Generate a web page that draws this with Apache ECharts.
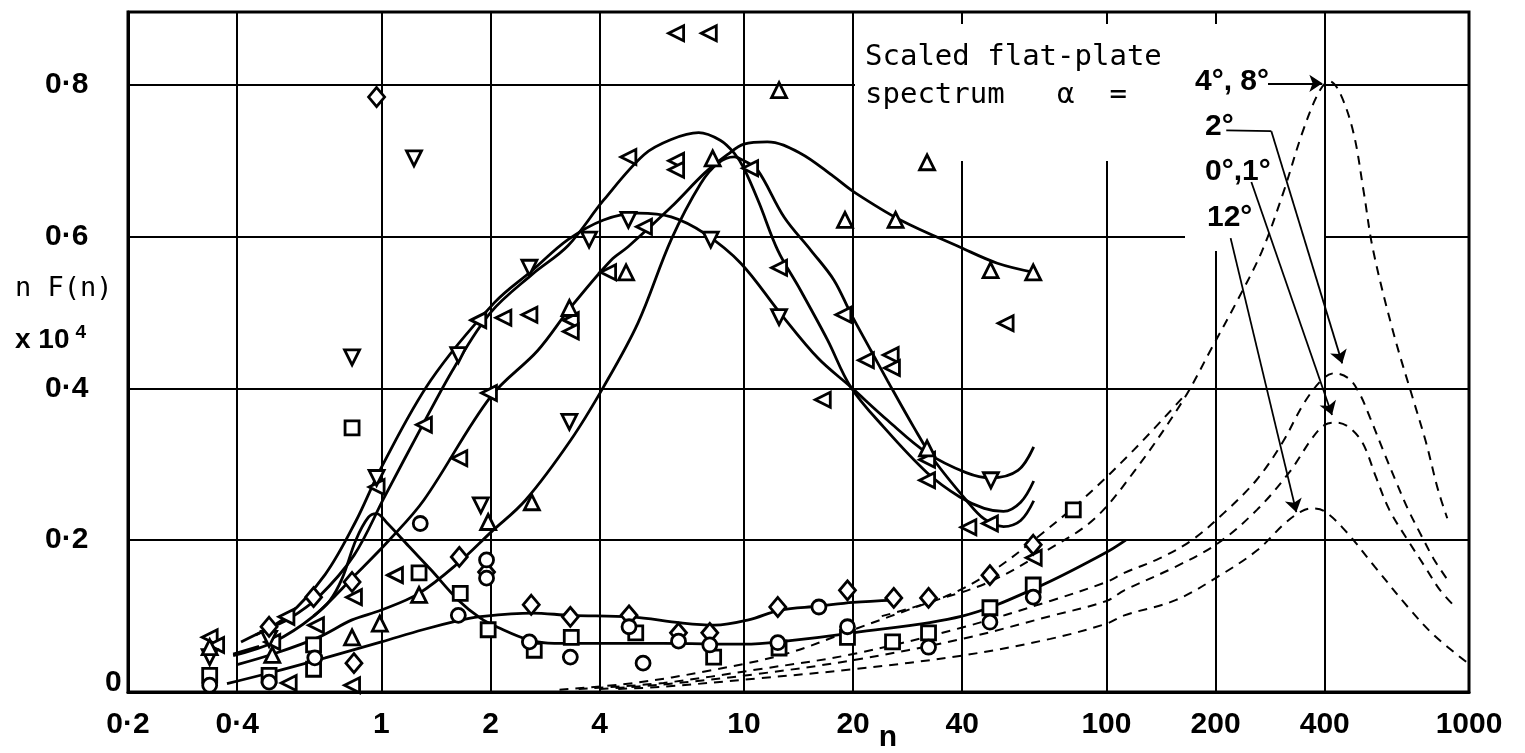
<!DOCTYPE html>
<html>
<head>
<meta charset="utf-8">
<script src="https://cdn.jsdelivr.net/npm/echarts@6/dist/echarts.min.js"></script>
<style>
  html, body { margin: 0; padding: 0; background: #fff; }
  #chart { width: 1525px; height: 753px; }
</style>
</head>
<body>
<div id="chart"></div>
<script>
// axis ticks
const xTicks = [0.2, 0.4, 1, 2, 4, 10, 20, 40, 100, 200, 400, 1000];
const yTicks = [0, 0.2, 0.4, 0.6, 0.8];

// faired curves through the measurements, [n, nF(n) x 10^4]
const curveDown = [[0.45,0.075],[0.55,0.1],[0.7,0.155],[0.85,0.225],[1.0,0.296],[1.37,0.411],[2.05,0.513],[2.6,0.555],[3.27,0.596],[4.1,0.622],[5.1,0.631],[6.3,0.626],[7.8,0.604],[9.8,0.565],[12.6,0.499],[16,0.44],[19.7,0.402],[24.9,0.358],[32,0.315],[41,0.289],[48,0.282],[57,0.292],[63,0.323]];
const curveLeft = [[0.41,0.066],[0.49,0.084],[0.55,0.095],[0.67,0.125],[0.84,0.18],[1.02,0.257],[1.29,0.349],[1.59,0.428],[2.0,0.5],[2.6,0.55],[3.27,0.588],[4.1,0.648],[5.3,0.708],[6.3,0.728],[7.5,0.737],[8.6,0.727],[9.4,0.71],[10,0.69],[11,0.645],[12.4,0.582],[14.3,0.53],[17,0.464],[19.7,0.402],[24.3,0.349],[32,0.289],[39.4,0.257],[46,0.242],[52,0.238],[58,0.25],[63,0.278]];
const curveUp = [[0.39,0.048],[0.5,0.065],[0.65,0.1],[0.85,0.155],[1.05,0.2],[1.31,0.253],[2.0,0.389],[2.7,0.45],[3.33,0.507],[4.3,0.569],[4.8,0.587],[6.3,0.639],[7.8,0.684],[9,0.708],[10,0.722],[11.6,0.725],[14.3,0.71],[17.7,0.679],[20.1,0.659],[27,0.622],[39.5,0.586],[50,0.565],[63,0.553]];
const curveSteep = [[0.4,0.036],[0.51,0.051],[0.67,0.072],[0.83,0.095],[1.0,0.108],[1.27,0.13],[1.63,0.17],[2.0,0.21],[2.5,0.253],[3.33,0.332],[4.1,0.402],[5.1,0.486],[6.3,0.596],[7.6,0.67],[8.5,0.697],[9.4,0.705],[10,0.7],[10.9,0.688],[12.9,0.626],[15.3,0.582],[17.7,0.543],[19.7,0.499],[22.4,0.45],[24.9,0.41],[29.4,0.349],[33.4,0.306],[41,0.253],[46,0.228],[52,0.218],[58,0.226],[63,0.252]];
const curveHump = [[0.65,0.1],[0.72,0.12],[0.78,0.15],[0.85,0.2],[0.92,0.23],[0.97,0.235],[1.04,0.222],[1.19,0.192],[1.37,0.161],[1.63,0.121],[1.88,0.097],[2.1,0.085],[2.54,0.069],[3,0.064],[4,0.064],[6,0.064],[10,0.063],[12.5,0.066],[20,0.078],[40,0.1],[64.5,0.138],[100,0.184],[113,0.2]];
const curveDiamond = [[0.375,0.011],[0.5,0.026],[0.7,0.045],[1.0,0.066],[1.3,0.082],[1.63,0.094],[1.85,0.099],[2.6,0.104],[3.33,0.101],[4.9,0.099],[6.7,0.091],[8.3,0.088],[10.3,0.095],[12.6,0.108],[16,0.113],[20,0.118],[26,0.121]];
const curveStub = [[0.39,0.05],[0.46,0.06]];

// scaled flat-plate spectra (dashed)
const flat4 = [[3.1,0.003],[5,0.012],[8,0.028],[13,0.05],[20,0.082],[32,0.117],[47,0.144],[67,0.184],[92,0.227],[119,0.29],[163,0.385],[196,0.455],[228,0.513],[268,0.58],[307,0.657],[347,0.737],[385,0.79],[412,0.805],[440,0.79],[480,0.737],[512,0.66],[544,0.582],[619,0.473],[702,0.385],[760,0.33],[822,0.266],[871,0.229]];
const flat8 = [[24,0.1],[35.6,0.125],[47.7,0.157],[64.5,0.204],[86.5,0.255],[119,0.319],[163,0.389]];
const flat2 = [[3.5,0.004],[6,0.012],[11,0.03],[20,0.05],[40,0.085],[70,0.12],[100,0.145],[112,0.157],[140,0.176],[172,0.2],[211,0.236],[260,0.28],[307,0.33],[350,0.38],[394,0.412],[425,0.42],[466,0.413],[498,0.394],[533,0.362],[579,0.319],[632,0.275],[680,0.24],[741,0.205],[800,0.175],[872,0.148]];
const flat01 = [[4,0.004],[6,0.01],[11,0.024],[20,0.042],[40,0.07],[70,0.1],[100,0.12],[112,0.134],[155,0.165],[203,0.196],[260,0.24],[320,0.29],[370,0.335],[400,0.352],[431,0.355],[466,0.349],[509,0.328],[554,0.283],[603,0.24],[678,0.2],[756,0.165],[830,0.135],[916,0.112]];
const flat12 = [[4.5,0.004],[6,0.007],[11,0.018],[20,0.03],[40,0.048],[70,0.07],[100,0.09],[112,0.101],[155,0.121],[203,0.152],[261,0.187],[310,0.222],[345,0.238],[370,0.242],[400,0.238],[455,0.213],[550,0.165],[678,0.112],[800,0.075],[993,0.038]];

// measured points by symbol
const triLeft = [[0.336,0.072],[0.35,0.062],[0.5,0.066],[0.547,0.099],[0.555,0.012],[0.66,0.088],[0.84,0.125],[0.83,0.009],[0.97,0.27],[1.09,0.154],[1.31,0.352],[1.64,0.308],[1.85,0.49],[1.98,0.394],[2.17,0.493],[2.56,0.497],[3.33,0.49],[3.33,0.475],[4.22,0.553],[4.8,0.705],[5.3,0.613],[6.5,0.868],[8.0,0.868],[6.5,0.70],[6.5,0.688],[10.4,0.69],[12.5,0.559],[16.5,0.385],[18.8,0.497],[21.7,0.437],[25.4,0.444],[25.6,0.427],[32,0.306],[32,0.279],[41.6,0.217],[47.7,0.222],[52.7,0.486],[63,0.177]];
const triDown = [[0.336,0.046],[0.49,0.07],[0.83,0.441],[0.97,0.282],[1.23,0.703],[1.63,0.444],[1.88,0.246],[2.56,0.559],[3.3,0.356],[3.74,0.596],[4.8,0.622],[8.1,0.596],[12.5,0.494],[48,0.279]];
const triUp = [[0.336,0.059],[0.5,0.049],[0.83,0.072],[0.99,0.09],[1.27,0.128],[1.97,0.224],[2.6,0.25],[3.3,0.506],[4.73,0.553],[8.2,0.703],[12.5,0.793],[19,0.622],[26.2,0.622],[32,0.698],[32,0.321],[47.9,0.556],[62.8,0.553]];
const diamonds = [[0.49,0.086],[0.65,0.125],[0.83,0.145],[0.84,0.038],[0.97,0.784],[1.64,0.178],[1.95,0.158],[2.59,0.115],[3.32,0.099],[4.82,0.101],[6.6,0.078],[8.05,0.078],[12.4,0.112],[19.3,0.134],[25.9,0.124],[32.3,0.124],[47.7,0.154],[62.8,0.194]];
const squares = [[0.336,0.022],[0.49,0.022],[0.65,0.062],[0.65,0.03],[0.83,0.348],[1.27,0.157],[1.65,0.13],[1.97,0.082],[2.64,0.055],[3.34,0.072],[5.03,0.078],[8.25,0.046],[12.5,0.058],[19.3,0.072],[25.7,0.066],[32.3,0.078],[47.7,0.111],[62.8,0.141],[81,0.24]];
const circles = [[0.336,0.009],[0.49,0.013],[0.655,0.045],[1.28,0.222],[1.63,0.101],[1.95,0.174],[1.95,0.15],[2.56,0.066],[3.32,0.046],[4.82,0.086],[5.27,0.038],[6.6,0.067],[8.05,0.062],[12.4,0.065],[16.1,0.112],[19.3,0.086],[32.3,0.059],[47.7,0.092],[62.8,0.125]];

// leader arrows for the alpha labels (last segment carries the head)
const arrow48 = [[279,0.802],[394,0.802]];
const lead2 = [[214,0.74],[285,0.739]];
const arrow2 = [[285,0.739],[447,0.433]];
const arrow01 = [[251,0.672],[419,0.365]];
const arrow12 = [[220,0.598],[334,0.237]];

const numFont = 'Liberation Sans';
const letterFont = 'DejaVu Sans Mono';

const fmt = v => {
  const r = Math.round(v * 10) / 10;
  if (r === 0) return '0';
  return String(r).replace('.', '·');
};

const curve = (data, dashed) => ({
  type: 'line', data, smooth: 0.35, showSymbol: false, silent: true, z: 3,
  lineStyle: { color: '#000', width: dashed ? 2 : 2.8, type: dashed ? [9, 7] : 'solid' }
});
const marks = (data, symbol, rotate, size) => ({
  type: 'scatter', data, symbol, symbolRotate: rotate || 0, symbolSize: size || 15, z: 5, silent: true,
  itemStyle: { color: '#fff', borderColor: '#000', borderWidth: 2.8, opacity: 1 }
});
const leaders = (data, head) => ({
  type: 'lines', coordinateSystem: 'cartesian2d', silent: true, z: 4,
  symbol: ['none', head ? 'arrow' : 'none'], symbolSize: [0, 13],
  lineStyle: { color: '#000', width: 1.8, opacity: 1, curveness: 0 },
  data: data.map(c => ({ coords: c }))
});

const chart = echarts.init(document.getElementById('chart'));
chart.setOption({
  animation: false,
  backgroundColor: '#fff',
  grid: { left: 128, right: 56, top: 12, bottom: 61, show: true, borderColor: '#000', borderWidth: 3 },
  xAxis: {
    type: 'log', logBase: 10, min: 0.2, max: 1000,
    axisLine: { show: true, lineStyle: { color: '#000', width: 3 } },
    axisTick: { show: false, customValues: xTicks },
    splitLine: { show: true, customValues: xTicks, lineStyle: { color: '#000', width: 2 } },
    axisLabel: {
      customValues: xTicks, formatter: fmt, margin: 18,
      color: '#000', fontFamily: numFont, fontWeight: 'bold', fontSize: 30
    }
  },
  yAxis: {
    type: 'value', min: 0, max: 0.896, interval: 0.2,
    axisLine: { show: true, lineStyle: { color: '#000', width: 3 } },
    axisTick: { show: false },
    splitLine: { show: true, lineStyle: { color: '#000', width: 2 } },
    axisLabel: {
      margin: 83, align: 'left', color: '#000', fontFamily: numFont, fontWeight: 'bold', fontSize: 30,
      formatter: v => {
        if (!yTicks.some(t => Math.abs(t - v) < 1e-6)) return '';
        return v === 0 ? '{z|0}' : fmt(v);
      },
      rich: { z: { fontFamily: numFont, fontWeight: 'bold', fontSize: 30, color: '#000', padding: [0, 0, 18, 60] } }
    }
  },
  graphic: [
    // gaps in the grid behind the annotation
    { type: 'rect', z: 2, silent: true, shape: { x: 855, y: 24, width: 469, height: 137 }, style: { fill: '#fff' } },
    { type: 'rect', z: 2, silent: true, shape: { x: 1185, y: 158, width: 139, height: 93 }, style: { fill: '#fff' } },
    { type: 'text', z: 10, x: 865, y: 57, style: { text: 'Scaled flat-plate', font: '29px "' + letterFont + '"', fill: '#000', verticalAlign: 'middle' } },
    { type: 'text', z: 10, x: 865, y: 95, style: { text: 'spectrum   α  =', font: '29px "' + letterFont + '"', fill: '#000', verticalAlign: 'middle' } },
    { type: 'text', z: 10, x: 1195, y: 82, style: { text: '4°, 8°', font: 'bold 30px "' + numFont + '"', fill: '#000', verticalAlign: 'middle' } },
    { type: 'text', z: 10, x: 1205, y: 127, style: { text: '2°', font: 'bold 30px "' + numFont + '"', fill: '#000', verticalAlign: 'middle' } },
    { type: 'text', z: 10, x: 1205, y: 172, style: { text: '0°,1°', font: 'bold 30px "' + numFont + '"', fill: '#000', verticalAlign: 'middle' } },
    { type: 'text', z: 10, x: 1207, y: 218, style: { text: '12°', font: 'bold 30px "' + numFont + '"', fill: '#000', verticalAlign: 'middle' } },
    { type: 'text', z: 10, x: 15, y: 289, style: { text: 'n F(n)', font: '27px "' + letterFont + '"', fill: '#000', verticalAlign: 'middle' } },
    { type: 'text', z: 10, x: 15, y: 340, style: {
        text: '{a|x 10}{s|4}', fill: '#000', verticalAlign: 'middle',
        rich: {
          a: { fontFamily: numFont, fontWeight: 'bold', fontSize: 28 },
          s: { fontFamily: numFont, fontWeight: 'bold', fontSize: 19, padding: [0, 0, 14, 6] }
        } } },
    { type: 'text', z: 10, x: 888, y: 738, style: { text: 'n', font: 'bold 30px "' + numFont + '"', fill: '#000', align: 'center', verticalAlign: 'middle' } }
  ],
  series: [
    curve(curveDown), curve(curveLeft), curve(curveUp), curve(curveSteep),
    curve(curveHump), curve(curveDiamond), curve(curveStub),
    curve(flat4, true), curve(flat8, true), curve(flat2, true), curve(flat01, true), curve(flat12, true),
    leaders([arrow48, arrow2, arrow01, arrow12], true),
    leaders([lead2], false),
    marks(triLeft, 'triangle', 90),
    marks(triDown, 'triangle', 180),
    marks(triUp, 'triangle', 0),
    marks(diamonds, 'diamond', 0, [16, 19]),
    marks(squares, 'rect', 0, 14),
    marks(circles, 'circle', 0, 14)
  ]
});
</script>
</body>
</html>
